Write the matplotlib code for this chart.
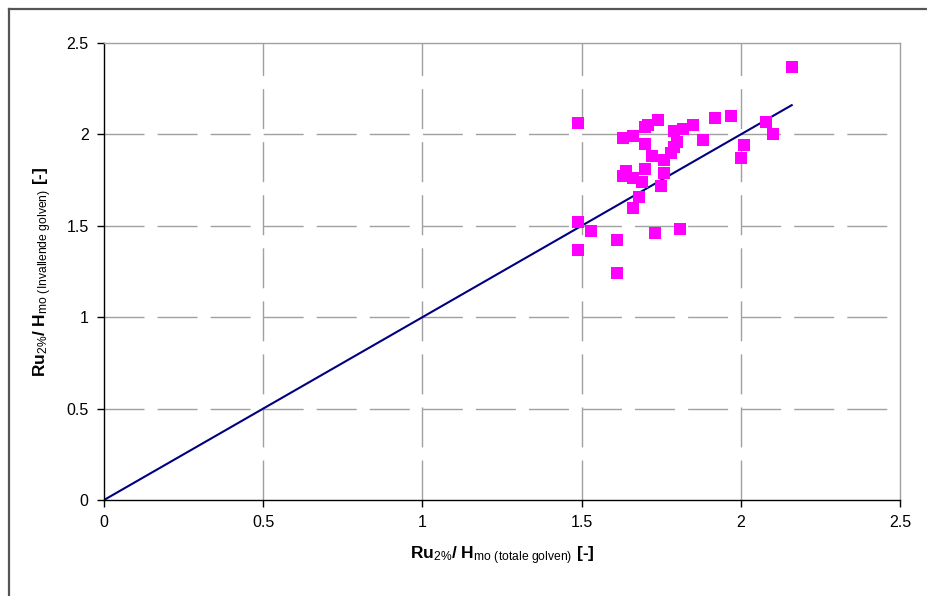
import matplotlib
matplotlib.use("Agg")
import matplotlib.pyplot as plt
from matplotlib.lines import Line2D

plt.rcParams["font.family"] = ["Liberation Sans", "DejaVu Sans"]
plt.rcParams["mathtext.fontset"] = "custom"
plt.rcParams["mathtext.rm"] = "Liberation Sans"
plt.rcParams["mathtext.bf"] = "Liberation Sans:bold"
plt.rcParams["mathtext.it"] = "Liberation Sans:italic"

# measured points: Ru2%/Hmo total waves (x) vs incident waves (y)
ru_totaal = [2.16, 1.49, 1.49, 1.53, 1.49, 1.61, 1.61, 1.73, 1.81, 1.66,
             1.68, 1.75, 1.76, 1.64, 1.63, 1.66, 1.69, 1.70, 1.72, 1.76,
             1.79, 1.80, 1.70, 1.63, 1.66, 1.71, 1.74, 1.79, 1.82, 1.85,
             1.88, 1.92, 1.97, 2.01, 2.00, 2.08, 2.10, 1.78, 1.70]
ru_invallend = [2.37, 2.06, 1.52, 1.47, 1.37, 1.42, 1.24, 1.46, 1.48, 1.60,
                1.66, 1.72, 1.79, 1.80, 1.77, 1.76, 1.74, 1.81, 1.88, 1.86,
                1.93, 1.96, 1.95, 1.98, 1.99, 2.05, 2.08, 2.02, 2.03, 2.05,
                1.97, 2.09, 2.10, 1.94, 1.87, 2.07, 2.00, 1.90, 2.04]

# 1:1 reference line
lijn_x = [0, 2.16]
lijn_y = [0, 2.16]

ticks = [0, 0.5, 1, 1.5, 2, 2.5]
tick_labels = ["0", "0.5", "1", "1.5", "2", "2.5"]

fig = plt.figure(figsize=(9.27, 5.96), dpi=100)
ax = fig.add_axes([104 / 927, 96 / 596, 796 / 927, 457 / 596])

grid_style = dict(color="#a0a0a0", linewidth=1.0, linestyle=(0, (28.8, 9.4)))
for t in ticks[1:-1]:
    ax.axvline(t, zorder=0, **grid_style)
    ax.axhline(t, zorder=0, **grid_style)

ax.plot(lijn_x, lijn_y, color="#000080", linewidth=1.5, zorder=2)
ax.plot(ru_totaal, ru_invallend, linestyle="none", marker="s",
        markersize=9.3, color="#ff00ff", markeredgewidth=0, zorder=3)

ax.set_xlim(0, 2.5)
ax.set_ylim(0, 2.5)
ax.set_xticks(ticks)
ax.set_xticklabels(tick_labels)
ax.set_yticks(ticks)
ax.set_yticklabels(tick_labels)
ax.tick_params(direction="out", length=5, width=1, labelsize=11.5,
               pad=6, colors="black")

for s in ["left", "bottom"]:
    ax.spines[s].set_color("black")
    ax.spines[s].set_linewidth(1.0)
for s in ["top", "right"]:
    ax.spines[s].set_color("#a0a0a0")
    ax.spines[s].set_linewidth(1.0)

ax.set_xlabel(r"$\mathbf{Ru}_{\mathrm{2\%}}\mathbf{/\ H}_{\mathrm{mo\ (totale\ golven)}}$ [-]",
              fontsize=12.5, fontweight="bold", labelpad=10)
ax.set_ylabel(r"$\mathbf{Ru}_{\mathrm{2\%}}\mathbf{/\ H}_{\mathrm{mo\ (Invallende\ golven)}}$ [-]",
              fontsize=12.5, fontweight="bold", labelpad=9)

# outer frame (only top and left visible)
fig.add_artist(Line2D([9 / 927, 9 / 927], [0, 1 - 9 / 596],
                      transform=fig.transFigure, color="#555555", linewidth=1.6))
fig.add_artist(Line2D([9 / 927, 1], [1 - 9 / 596, 1 - 9 / 596],
                      transform=fig.transFigure, color="#555555", linewidth=1.6))

fig.savefig("out.png", dpi=100)
